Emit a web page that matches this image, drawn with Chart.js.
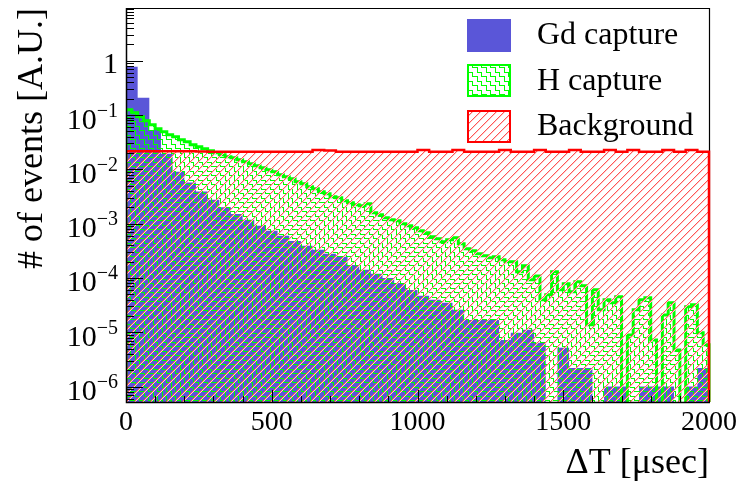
<!DOCTYPE html>
<html>
<head>
<meta charset="utf-8">
<script src="https://cdn.jsdelivr.net/npm/chart.js@4/dist/chart.umd.min.js"></script>
<style>
html, body { margin: 0; padding: 0; background: #ffffff; }
canvas { display: block; }
</style>
</head>
<body>
<canvas id="c" width="742" height="489"></canvas>
<script>
// ---------------- data ----------------
const xAxisMin = 0;
const xAxisMax = 2000;
const xTickValues = [0, 500, 1000, 1500, 2000];
const xMinorStep = 100;
const yAxisMin = 5.2e-7;
const yAxisMax = 9.35;
const yTickPowers = [-6, -5, -4, -3, -2, -1, 0];

const gdBinWidth = 40;   // µs
const hBinWidth = 20;    // µs
const bgBinWidth = 40;   // µs

const gdCapture = [
  0.775, 0.208, 0.053, 0.0194, 0.0090, 0.0057, 0.0039, 0.00275, 0.0020, 0.0015,
  0.00118, 0.00091, 0.00074, 0.00060, 0.00048, 0.00039, 0.00033, 0.00028, 0.000245, 0.000174,
  0.000141, 0.000119, 0.000100, 0.000081, 0.000060, 0.000047, 0.0000395, 0.0000348, 0.0000259, 0.0000169,
  0.0000169, 0.0000169, 0.0000072, 0.0000098, 0.0000111, 0.0000064, 0, 0.0000052, 0.0000022, 0.0000022,
  0, 0.000001, 0.000001, 0, 0.000001, 0.000001, 0.000001, 0, 0.000001, 0.0000022
];

const hCapture = [
  0.1251, 0.1102, 0.0929, 0.0785, 0.0662, 0.0559, 0.0492, 0.0433, 0.0398, 0.0350,
  0.0322, 0.0283, 0.0260, 0.0239, 0.0220, 0.0202, 0.0185, 0.0170, 0.0163, 0.0150,
  0.01378, 0.01266, 0.01163, 0.01068, 0.00981, 0.00902, 0.00794, 0.00729, 0.00670, 0.00590,
  0.00542, 0.00477, 0.00438, 0.00386, 0.00355, 0.00312, 0.00299, 0.00263, 0.00242, 0.00222,
  0.00213, 0.00232, 0.00158, 0.00146, 0.00128, 0.00118, 0.00113, 0.000993, 0.000912, 0.000838,
  0.000738, 0.000678, 0.000572, 0.000526, 0.000463, 0.000504, 0.000548, 0.000425, 0.000344, 0.000316,
  0.000278, 0.000256, 0.000235, 0.000245, 0.000216, 0.000198, 0.000198, 0.000130, 0.000167, 0.0000923,
  0.000109, 0.0000395, 0.0000489, 0.000130, 0.0000604, 0.0000779, 0.0000555, 0.0000849, 0.0000716, 0.0000137,
  0.0000604, 0.0000259, 0.0000395, 0.0000348, 0.0000449, 0, 0.00000895, 0.0000259, 0.0000395, 0.0000430,
  0.00000724, 0, 0.0000209, 0.0000348, 0.00000474, 0, 0.0000294, 0.0000320, 0.00000975, 0.00000586
];

const background = [
  0.0216, 0.0216, 0.0216, 0.0216, 0.0216, 0.0216, 0.0213, 0.0211, 0.0211, 0.0211,
  0.0211, 0.0211, 0.0211, 0.0211, 0.0211, 0.0211, 0.0228, 0.0222, 0.0211, 0.0211,
  0.0211, 0.0211, 0.0211, 0.0211, 0.0211, 0.0228, 0.0211, 0.0211, 0.0228, 0.0211,
  0.0211, 0.0211, 0.0228, 0.0211, 0.0211, 0.0228, 0.0211, 0.0211, 0.0228, 0.0211,
  0.0211, 0.0228, 0.0211, 0.0228, 0.0211, 0.0211, 0.0228, 0.0211, 0.0228, 0.0211
];

const seriesLabels = ['Gd capture', 'H capture', 'Background'];
const xTitle = 'ΔT [μsec]';
const yTitle = '# of events [A.U.]';

// ---------------- style ----------------
const FONT = "'Liberation Serif', 'Times New Roman', Times, serif";
Chart.defaults.font.family = FONT;
Chart.defaults.color = '#000';
const GD_COLOR = 'rgb(90,86,216)';
const H_COLOR = '#00ff00';
const BG_COLOR = '#ff0000';

const canvas = document.getElementById('c');
const ctx = canvas.getContext('2d');

// crisp pixel tiles
function makeHatch(size) {
  const c = document.createElement('canvas');
  c.width = size; c.height = size;
  const g = c.getContext('2d');
  for (let i = 0; i < size; i++) {
    g.fillStyle = 'rgb(255,205,205)';
    g.fillRect((i + 1) % size, size - 1 - i, 1, 1);
    g.fillStyle = 'rgb(255,85,85)';
    g.fillRect(i, size - 1 - i, 1, 1);
  }
  return ctx.createPattern(c, 'repeat');
}
function makeStairs(color, size) {
  const c = document.createElement('canvas');
  c.width = size; c.height = size;
  const g = c.getContext('2d');
  g.fillStyle = color;
  const h = Math.floor(size / 2);
  g.fillRect(0, 0, h + 1, 1);
  g.fillRect(h, 0, 1, h + 1);
  g.fillRect(h, h, size - h, 1);
  g.fillRect(0, h, 1, size - h);
  return ctx.createPattern(c, 'repeat');
}
const redHatch = makeHatch(8);
const greenStairs = makeStairs(H_COLOR, 9);

// histogram outline points built from bin values (zero bins go below the axis floor)
const FLOOR = 1e-12;
function histPoints(values, width) {
  const pts = [{x: 0, y: FLOOR}];
  values.forEach((v, i) => {
    const yv = v > 0 ? v : FLOOR;
    pts.push({x: i * width, y: yv});
    pts.push({x: (i + 1) * width, y: yv});
  });
  pts.push({x: values.length * width, y: FLOOR});
  return pts;
}

const clipBox = {left: 0, top: 0, right: 3, bottom: 0};

const datasets = [
  {
    label: seriesLabels[2], data: histPoints(background, bgBinWidth),
    borderColor: BG_COLOR, borderWidth: 2.5, backgroundColor: redHatch, fill: 'start',
    pointRadius: 0, pointHitRadius: 0, tension: 0, borderJoinStyle: 'miter', clip: clipBox
  },
  {
    label: seriesLabels[1], data: histPoints(hCapture, hBinWidth),
    borderColor: H_COLOR, borderWidth: 3, backgroundColor: greenStairs, fill: 'start',
    pointRadius: 0, pointHitRadius: 0, tension: 0, borderJoinStyle: 'miter', clip: clipBox
  },
  {
    label: seriesLabels[0], data: histPoints(gdCapture, gdBinWidth),
    borderColor: GD_COLOR, borderWidth: 0, backgroundColor: GD_COLOR, fill: 'start',
    pointRadius: 0, pointHitRadius: 0, tension: 0, clip: clipBox
  }
];

const rootAxes = {
  id: 'rootAxes',
  beforeDatasetsDraw(chart) {
    const {ctx: c, chartArea: a} = chart;
    c.save();
    c.strokeStyle = '#000'; c.lineWidth = 1.2;
    c.beginPath();
    c.moveTo(a.left, a.top + 0.5); c.lineTo(a.right + 0.5, a.top + 0.5);
    c.moveTo(a.right + 0.5, a.top); c.lineTo(a.right + 0.5, a.bottom);
    c.stroke();
    c.restore();
  },
  afterDatasetsDraw(chart) {
    const {ctx: c, chartArea: a, scales: {x: xs, y: ys}} = chart;
    c.save();
    c.strokeStyle = '#000'; c.lineWidth = 1;
    c.beginPath();
    for (let p = -7; p <= 1; p++) {
      for (let m = 1; m <= 9; m++) {
        const v = m * Math.pow(10, p);
        if (v < ys.min || v > ys.max) continue;
        const y = Math.round(ys.getPixelForValue(v)) + 0.5;
        const len = m === 1 ? 17 : 8;
        c.moveTo(a.left, y); c.lineTo(a.left + len, y);
      }
    }
    for (let v = xAxisMin; v <= xAxisMax; v += xMinorStep) {
      const x = Math.round(xs.getPixelForValue(v)) + 0.5;
      const len = xTickValues.includes(v) ? 12 : 6;
      c.moveTo(x, a.bottom); c.lineTo(x, a.bottom - len);
    }
    c.stroke();
    c.lineWidth = 1.5;
    c.beginPath();
    c.moveTo(a.left + 0.5, a.top); c.lineTo(a.left + 0.5, a.bottom + 0.5);
    c.lineTo(a.right + 1, a.bottom + 0.5);
    c.stroke();

    // y tick labels: 10 with raised exponent, right aligned against the axis
    c.fillStyle = '#000';
    c.textBaseline = 'alphabetic';
    c.textAlign = 'left';
    const right = a.left - 8;
    yTickPowers.forEach(p => {
      const ty = ys.getPixelForValue(Math.pow(10, p));
      if (p === 0) {
        c.font = '30px ' + FONT;
        const w = c.measureText('1').width;
        c.fillText('1', right - w, ty + 12);
        return;
      }
      const expo = '\u2212' + String(-p);
      c.font = '20px ' + FONT;
      const we = c.measureText(expo).width;
      c.font = '30px ' + FONT;
      const wb = c.measureText('10').width;
      const x0 = right - we - wb;
      c.fillText('10', x0, ty + 13.5);
      c.font = '20px ' + FONT;
      c.fillText(expo, x0 + wb, ty + 1.5);
    });
    c.restore();
  }
};

const rootLegend = {
  id: 'rootLegend',
  afterDraw(chart) {
    const c = chart.ctx;
    const entries = [
      {ds: chart.data.datasets[2], fill: GD_COLOR, border: null},
      {ds: chart.data.datasets[1], fill: greenStairs, border: H_COLOR},
      {ds: chart.data.datasets[0], fill: redHatch, border: BG_COLOR}
    ];
    const boxX = 467, boxW = 44, boxH = 33, firstCenter = 35, step = 45.5, textX = 537;
    c.save();
    entries.forEach((e, i) => {
      const cy = firstCenter + i * step;
      const top = Math.round(cy - boxH / 2);
      c.fillStyle = e.fill;
      c.fillRect(boxX, top, boxW, boxH);
      if (e.border) {
        c.strokeStyle = e.border; c.lineWidth = 2;
        c.strokeRect(boxX + 1, top + 1, boxW - 2, boxH - 2);
      }
      c.fillStyle = '#000';
      c.font = '32px ' + FONT;
      c.textAlign = 'left'; c.textBaseline = 'middle';
      c.fillText(e.ds.label, textX, cy + 1);
    });
    c.restore();
  }
};

new Chart(ctx, {
  type: 'line',
  data: {datasets},
  options: {
    responsive: false,
    animation: false,
    devicePixelRatio: 1,
    layout: {padding: {top: 8, right: 33, left: 0, bottom: 0}},
    plugins: {legend: {display: false}, tooltip: {enabled: false}},
    scales: {
      x: {
        type: 'linear', position: 'bottom', min: xAxisMin, max: xAxisMax,
        grid: {display: false, drawTicks: false},
        border: {display: false},
        afterBuildTicks: s => { s.ticks = xTickValues.map(v => ({value: v})); },
        afterFit: s => { s.height = 87; s.paddingLeft = 0; s.paddingRight = 0; },
        ticks: {
          autoSkip: false, maxRotation: 0, padding: 4, color: '#000',
          font: {family: FONT, size: 28},
          callback: v => String(v)
        },
        title: {
          display: true, text: xTitle, align: 'end', color: '#000',
          font: {family: FONT, size: 36}, padding: {top: 0, bottom: 4}
        }
      },
      y: {
        type: 'logarithmic', position: 'left', min: yAxisMin, max: yAxisMax,
        grid: {display: false, drawTicks: false},
        border: {display: false},
        afterBuildTicks: s => { s.ticks = yTickPowers.map(p => ({value: Math.pow(10, p)})); },
        afterFit: s => { s.width = 126; s.paddingTop = 0; s.paddingBottom = 0; },
        ticks: {display: false},
        title: {
          display: true, text: yTitle, align: 'end', color: '#000',
          font: {family: FONT, size: 36}, padding: {top: 11, bottom: 0}
        }
      }
    }
  },
  plugins: [rootAxes, rootLegend]
});
</script>
</body>
</html>
